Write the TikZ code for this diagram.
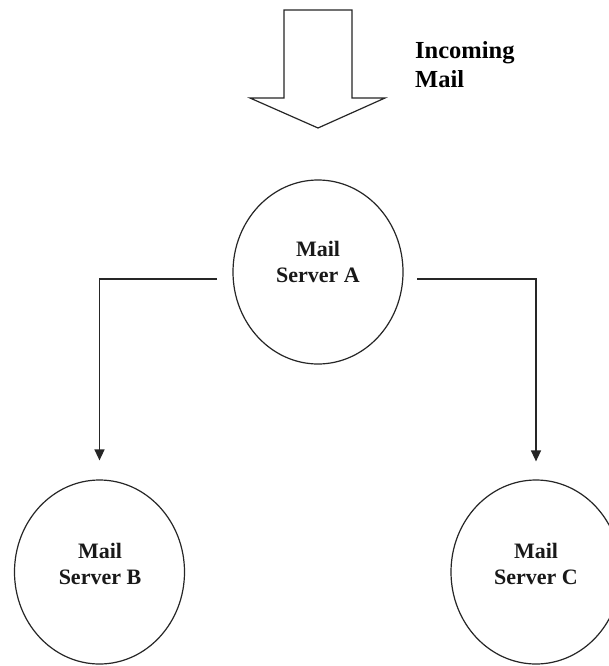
\documentclass[tikz,border=0pt]{standalone}
\usepackage{fontspec}
\setmainfont{Liberation Serif}
\usetikzlibrary{arrows.meta,shapes.geometric}
\begin{document}
\begin{tikzpicture}[x=1pt,y=-1pt,
  server/.style={ellipse,draw=black!85,line width=1.2pt,minimum width=170pt,minimum height=184pt,inner sep=0pt},
  srvtext/.style={align=center,font=\fontsize{22}{26}\selectfont\bfseries,text=black!90,inner sep=0pt},
  conn/.style={draw=black!85,line width=1.4pt,-{Triangle[length=11pt,width=10pt]}},
  bigarrow/.style={draw=black!85,line width=1.2pt,fill=white,line join=miter}
]
\path[fill=white,use as bounding box] (0,0) rectangle (609,666);

% incoming arrow
\draw[bigarrow] (284,10) -- (352,10) -- (352,98) -- (385,98) -- (318,128) -- (250,98) -- (284,98) -- cycle;
\node[anchor=north west,align=left,inner sep=0pt,font=\fontsize{24.5}{29}\selectfont\bfseries] (inc) at (415,41) {Incoming\\Mail};

% servers
\node[server] (A) at (318,272) {};
\node[server] (B) at (99.5,572) {};
\node[server] (C) at (536,572) {};
\node[srvtext] (At) at (318,262) {Mail\\Server A};
\node[srvtext] (Bt) at (100,564) {Mail\\Server B};
\node[srvtext] (Ct) at (536,564) {Mail\\Server C};

% connectors
\coordinate (aL) at (217,279);
\coordinate (aR) at (417,279);
\draw[conn,shorten >=19pt] (aL) -| (B.north);
\draw[conn,shorten >=18pt] (aR) -| (C.north);
\end{tikzpicture}
\end{document}
